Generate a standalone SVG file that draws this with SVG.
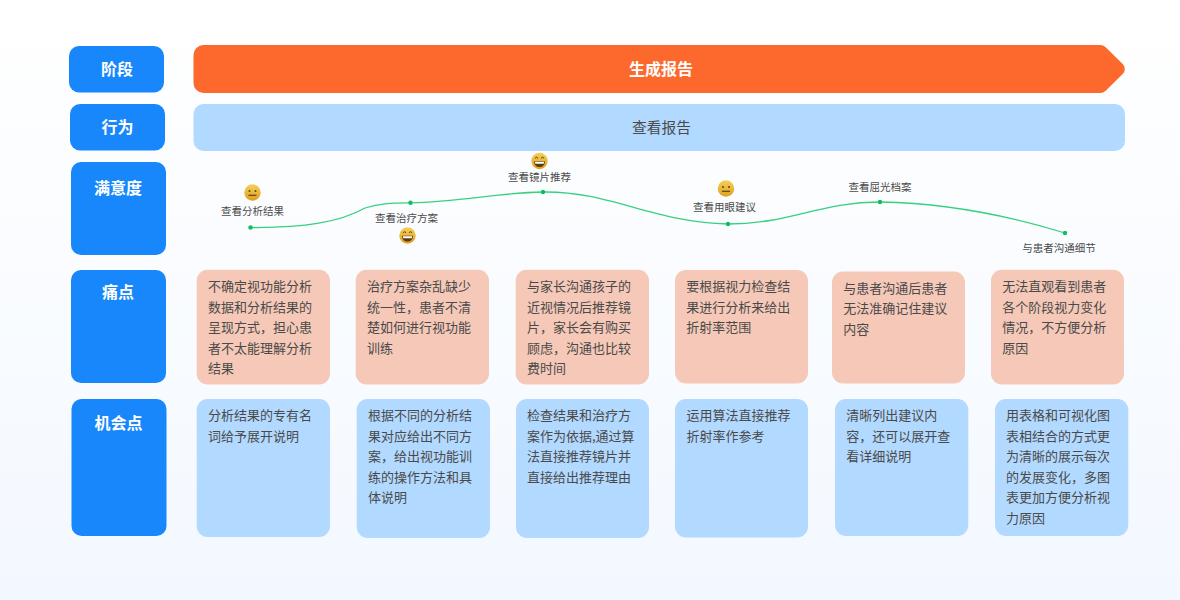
<svg xmlns="http://www.w3.org/2000/svg" width="1180" height="600" viewBox="0 0 1180 600">
<style>
text{font-family:"Noto Sans CJK SC","Noto Sans",sans-serif}
.hd{fill:#1787fb}
.hdt{fill:#fff;font-size:16px;font-weight:700;text-anchor:middle}
.pain{fill:#f5c8b7}
.opp{fill:#b2d9ff}
.c{fill:#4a4a4a;font-size:13px}
.lab{fill:#4a4a4a;font-size:10.5px;text-anchor:middle}
.dot{fill:#0cbf5b}
.face{fill:url(#fg)}
.e{fill:#5b4514}
</style>
<defs>
<linearGradient id="bg" x1="0" y1="0" x2="0" y2="1"><stop offset="0" stop-color="#fff"/><stop offset="1" stop-color="#f3f8ff"/></linearGradient>
<linearGradient id="fg" x1="0" y1="0" x2="0" y2="1"><stop offset="0" stop-color="#f5cf5a"/><stop offset="1" stop-color="#dfa01e"/></linearGradient>
<g id="neutral"><circle r="8.2" class="face"/><circle cx="-3" cy="-1.5" r="1" class="e"/><circle cx="3" cy="-1.5" r="1" class="e"/><rect x="-4" y="2.2" width="8" height="1.2" class="e"/></g>
<g id="happy"><circle r="8.2" class="face"/><path d="M-4.2-2.6a1.2 1.2 0 0 1 2.4 0M1.8-2.6a1.2 1.2 0 0 1 2.4 0" fill="none" stroke="#5b4514" stroke-width="1"/><path d="M-5.5 .2H5.500C5.500 4 3 6 0 6S-5.500 4-5.500 .2Z" fill="#5b3a10"/><path d="M-4.800 .8H4.800L4.200 2.800H-4.200Z" fill="#fff"/></g>
</defs>
<rect id="background" width="1180" height="600" fill="url(#bg)"/>
<g id="head-stage"><rect class="hd" x="69" y="46" width="95" height="46.500" rx="10"/><text class="hdt" x="117" y="75">阶段</text></g>
<g id="head-action"><rect class="hd" x="70" y="104" width="95" height="46.500" rx="10"/><text class="hdt" x="117.500" y="133">行为</text></g>
<g id="head-satisfaction"><rect class="hd" x="71" y="162" width="95" height="93" rx="10"/><text class="hdt" x="118" y="194">满意度</text></g>
<g id="head-pain"><rect class="hd" x="71" y="270" width="95" height="113" rx="10"/><text class="hdt" x="118" y="297.500">痛点</text></g>
<g id="head-opportunity"><rect class="hd" x="71.500" y="399" width="95" height="137" rx="10"/><text class="hdt" x="118.500" y="429">机会点</text></g>
<g id="stage-bar"><path d="M203.500 45H1100a8 8 0 0 1 5.700 2.300L1122.700 64a7 7 0 0 1 0 10L1105.700 90.700a8 8 0 0 1-5.700 2.300H203.500a10 10 0 0 1-10-10V55a10 10 0 0 1 10-10Z" fill="#fd692c"/><text x="661" y="75" fill="#fff" font-size="16" font-weight="700" text-anchor="middle">生成报告</text></g>
<g id="action-bar"><rect x="193.500" y="104" width="931.500" height="47" rx="10" fill="#b2d9ff"/><text x="661.500" y="132.500" fill="#4a4a4a" font-size="14.700" text-anchor="middle">查看报告</text></g>
<g id="connectors"><path d="M250.500 227.500C305 228 340 222 365 208C380 203 395 203 410.500 202.800C460 202 500 192.500 543 192C610 191 655 223 728 224C790 224 820 202 880 202C940 203 1000 213 1065 233" fill="none" stroke="#38d07e" stroke-width="1.300"/></g>
<g id="sat-1"><circle class="dot" cx="250.500" cy="227.500" r="2.200"/><use href="#neutral" x="252.500" y="192.500"/><text class="lab" x="252.500" y="214.500">查看分析结果</text></g>
<g id="sat-2"><circle class="dot" cx="410.500" cy="202.800" r="2.200"/><use href="#happy" x="407.500" y="235.500"/><text class="lab" x="406.500" y="222">查看治疗方案</text></g>
<g id="sat-3"><circle class="dot" cx="543" cy="192" r="2.200"/><use href="#happy" x="539.500" y="161"/><text class="lab" x="539.500" y="181">查看镜片推荐</text></g>
<g id="sat-4"><circle class="dot" cx="728" cy="224" r="2.200"/><use href="#neutral" x="726" y="188.500"/><text class="lab" x="724.500" y="211">查看用眼建议</text></g>
<g id="sat-5"><circle class="dot" cx="880" cy="202" r="2.200"/><text class="lab" x="880" y="190.500">查看屈光档案</text></g>
<g id="sat-6"><circle class="dot" cx="1065" cy="233" r="2.200"/><text class="lab" x="1059" y="252">与患者沟通细节</text></g>
<g id="pain-1"><rect class="pain" x="196.700" y="269.700" width="133.300" height="114.800" rx="11"/><text class="c" x="208" y="291">不确定视功能分析</text><text class="c" x="208" y="311.500">数据和分析结果的</text><text class="c" x="208" y="332">呈现方式，担心患</text><text class="c" x="208" y="352.500">者不太能理解分析</text><text class="c" x="208" y="373">结果</text></g>
<g id="pain-2"><rect class="pain" x="355.700" y="269.700" width="133.300" height="114.800" rx="11"/><text class="c" x="367" y="291">治疗方案杂乱缺少</text><text class="c" x="367" y="311.500">统一性，患者不清</text><text class="c" x="367" y="332">楚如何进行视功能</text><text class="c" x="367" y="352.500">训练</text></g>
<g id="pain-3"><rect class="pain" x="515.700" y="269.700" width="133.300" height="114.800" rx="11"/><text class="c" x="527" y="291">与家长沟通孩子的</text><text class="c" x="527" y="311.500">近视情况后推荐镜</text><text class="c" x="527" y="332">片，家长会有购买</text><text class="c" x="527" y="352.500">顾虑，沟通也比较</text><text class="c" x="527" y="373">费时间</text></g>
<g id="pain-4"><rect class="pain" x="675" y="270" width="133" height="113.500" rx="11"/><text class="c" x="686.300" y="291">要根据视力检查结</text><text class="c" x="686.300" y="311.500">果进行分析来给出</text><text class="c" x="686.300" y="332">折射率范围</text></g>
<g id="pain-5"><rect class="pain" x="832" y="271.500" width="133" height="112" rx="11"/><text class="c" x="843.300" y="292.500">与患者沟通后患者</text><text class="c" x="843.300" y="313">无法准确记住建议</text><text class="c" x="843.300" y="333.500">内容</text></g>
<g id="pain-6"><rect class="pain" x="991" y="269.700" width="133" height="114.800" rx="11"/><text class="c" x="1002.300" y="291">无法直观看到患者</text><text class="c" x="1002.300" y="311.500">各个阶段视力变化</text><text class="c" x="1002.300" y="332">情况，不方便分析</text><text class="c" x="1002.300" y="352.500">原因</text></g>
<g id="opp-1"><rect class="opp" x="196.700" y="399" width="133.300" height="138" rx="11"/><text class="c" x="208" y="420">分析结果的专有名</text><text class="c" x="208" y="440.500">词给予展开说明</text></g>
<g id="opp-2"><rect class="opp" x="356.700" y="399" width="133.300" height="139" rx="11"/><text class="c" x="368" y="420">根据不同的分析结</text><text class="c" x="368" y="440.500">果对应给出不同方</text><text class="c" x="368" y="461">案，给出视功能训</text><text class="c" x="368" y="481.500">练的操作方法和具</text><text class="c" x="368" y="502">体说明</text></g>
<g id="opp-3"><rect class="opp" x="516" y="399" width="133" height="139" rx="11"/><text class="c" x="527" y="420">检查结果和治疗方</text><text class="c" x="527" y="440.500">案作为依据,通过算</text><text class="c" x="527" y="461">法直接推荐镜片并</text><text class="c" x="527" y="481.500">直接给出推荐理由</text></g>
<g id="opp-4"><rect class="opp" x="675" y="399" width="133" height="138.500" rx="11"/><text class="c" x="686.500" y="420">运用算法直接推荐</text><text class="c" x="686.500" y="440.500">折射率作参考</text></g>
<g id="opp-5"><rect class="opp" x="835" y="399" width="133.300" height="137" rx="11"/><text class="c" x="846.300" y="420">清晰列出建议内</text><text class="c" x="846.300" y="440.500">容，还可以展开查</text><text class="c" x="846.300" y="461">看详细说明</text></g>
<g id="opp-6"><rect class="opp" x="995" y="399" width="133.300" height="137" rx="11"/><text class="c" x="1006" y="420">用表格和可视化图</text><text class="c" x="1006" y="440.500">表相结合的方式更</text><text class="c" x="1006" y="461">为清晰的展示每次</text><text class="c" x="1006" y="481.500">的发展变化，多图</text><text class="c" x="1006" y="502">表更加方便分析视</text><text class="c" x="1006" y="522.500">力原因</text></g>
</svg>
